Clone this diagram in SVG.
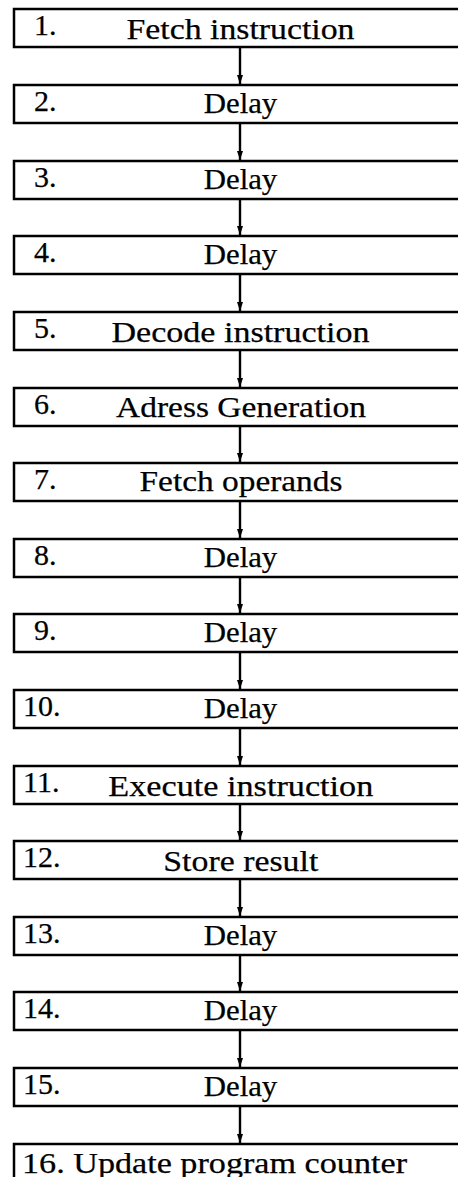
<svg xmlns="http://www.w3.org/2000/svg" width="458" height="1177" viewBox="0 0 458 1177">
<style>
.box{fill:#fff;stroke:#000;stroke-width:2.5}
.t{font-family:"Liberation Serif","Times New Roman",serif;font-size:30px;fill:#000;stroke:#000;stroke-width:0.25}
.c{text-anchor:middle}
.ln{stroke:#000;stroke-width:2.4;fill:none}
</style>
<defs>
<marker id="ah" markerUnits="userSpaceOnUse" markerWidth="12" markerHeight="10" viewBox="-10 -5 12 10" refX="0" refY="0" orient="auto">
<path d="M0,0 L-9,-3 L-9,3 Z" fill="#000"/>
</marker>
</defs>
<rect width="458" height="1177" fill="#fff"/>
<g id="connectors">
<line class="ln" x1="240" y1="48" x2="240" y2="84" marker-end="url(#ah)"/>
<line class="ln" x1="240" y1="124" x2="240" y2="160" marker-end="url(#ah)"/>
<line class="ln" x1="240" y1="200" x2="240" y2="235" marker-end="url(#ah)"/>
<line class="ln" x1="240" y1="275" x2="240" y2="311" marker-end="url(#ah)"/>
<line class="ln" x1="240" y1="351" x2="240" y2="387" marker-end="url(#ah)"/>
<line class="ln" x1="240" y1="427" x2="240" y2="462" marker-end="url(#ah)"/>
<line class="ln" x1="240" y1="502" x2="240" y2="538" marker-end="url(#ah)"/>
<line class="ln" x1="240" y1="578" x2="240" y2="613" marker-end="url(#ah)"/>
<line class="ln" x1="240" y1="653" x2="240" y2="689" marker-end="url(#ah)"/>
<line class="ln" x1="240" y1="729" x2="240" y2="765" marker-end="url(#ah)"/>
<line class="ln" x1="240" y1="805" x2="240" y2="840" marker-end="url(#ah)"/>
<line class="ln" x1="240" y1="880" x2="240" y2="916" marker-end="url(#ah)"/>
<line class="ln" x1="240" y1="956" x2="240" y2="991" marker-end="url(#ah)"/>
<line class="ln" x1="240" y1="1031" x2="240" y2="1067" marker-end="url(#ah)"/>
<line class="ln" x1="240" y1="1107" x2="240" y2="1143" marker-end="url(#ah)"/>
</g>
<g id="n1"><rect class="box" x="14" y="9" width="460" height="38"/><text class="t" x="34" y="35">1.</text><text class="t c" x="240.5" y="38.5" textLength="228" lengthAdjust="spacingAndGlyphs">Fetch instruction</text></g>
<g id="n2"><rect class="box" x="14" y="85" width="460" height="38"/><text class="t" x="34" y="111">2.</text><text class="t c" x="240.5" y="112.5" textLength="73.5" lengthAdjust="spacingAndGlyphs">Delay</text></g>
<g id="n3"><rect class="box" x="14" y="161" width="460" height="38"/><text class="t" x="34" y="187">3.</text><text class="t c" x="240.5" y="188.5" textLength="73.5" lengthAdjust="spacingAndGlyphs">Delay</text></g>
<g id="n4"><rect class="box" x="14" y="236" width="460" height="38"/><text class="t" x="34" y="262">4.</text><text class="t c" x="240.5" y="263.5" textLength="73.5" lengthAdjust="spacingAndGlyphs">Delay</text></g>
<g id="n5"><rect class="box" x="14" y="312" width="460" height="38"/><text class="t" x="34" y="338">5.</text><text class="t c" x="240.5" y="341.5" textLength="258" lengthAdjust="spacingAndGlyphs">Decode instruction</text></g>
<g id="n6"><rect class="box" x="14" y="388" width="460" height="38"/><text class="t" x="34" y="414">6.</text><text class="t c" x="241" y="417" textLength="250" lengthAdjust="spacingAndGlyphs">Adress Generation</text></g>
<g id="n7"><rect class="box" x="14" y="463" width="460" height="38"/><text class="t" x="34" y="489">7.</text><text class="t c" x="241" y="490.5" textLength="203" lengthAdjust="spacingAndGlyphs">Fetch operands</text></g>
<g id="n8"><rect class="box" x="14" y="539" width="460" height="38"/><text class="t" x="34" y="565">8.</text><text class="t c" x="240.5" y="566.5" textLength="73.5" lengthAdjust="spacingAndGlyphs">Delay</text></g>
<g id="n9"><rect class="box" x="14" y="614" width="460" height="38"/><text class="t" x="34" y="640">9.</text><text class="t c" x="240.5" y="641.5" textLength="73.5" lengthAdjust="spacingAndGlyphs">Delay</text></g>
<g id="n10"><rect class="box" x="14" y="690" width="460" height="38"/><text class="t" x="23" y="716">10.</text><text class="t c" x="240.5" y="717.5" textLength="73.5" lengthAdjust="spacingAndGlyphs">Delay</text></g>
<g id="n11"><rect class="box" x="14" y="766" width="460" height="38"/><text class="t" x="23" y="792">11.</text><text class="t c" x="240.8" y="795.5" textLength="265" lengthAdjust="spacingAndGlyphs">Execute instruction</text></g>
<g id="n12"><rect class="box" x="14" y="841" width="460" height="38"/><text class="t" x="23" y="867">12.</text><text class="t c" x="240.8" y="870.5" textLength="155" lengthAdjust="spacingAndGlyphs">Store result</text></g>
<g id="n13"><rect class="box" x="14" y="917" width="460" height="38"/><text class="t" x="23" y="943">13.</text><text class="t c" x="240.5" y="944.5" textLength="73.5" lengthAdjust="spacingAndGlyphs">Delay</text></g>
<g id="n14"><rect class="box" x="14" y="992" width="460" height="38"/><text class="t" x="23" y="1018">14.</text><text class="t c" x="240.5" y="1019.5" textLength="73.5" lengthAdjust="spacingAndGlyphs">Delay</text></g>
<g id="n15"><rect class="box" x="14" y="1068" width="460" height="38"/><text class="t" x="23" y="1094">15.</text><text class="t c" x="240.5" y="1095.5" textLength="73.5" lengthAdjust="spacingAndGlyphs">Delay</text></g>
<g id="n16"><rect class="box" x="14" y="1144" width="460" height="38"/><text class="t" x="22" y="1173" textLength="385" lengthAdjust="spacingAndGlyphs">16. Update program counter</text></g>
</svg>
